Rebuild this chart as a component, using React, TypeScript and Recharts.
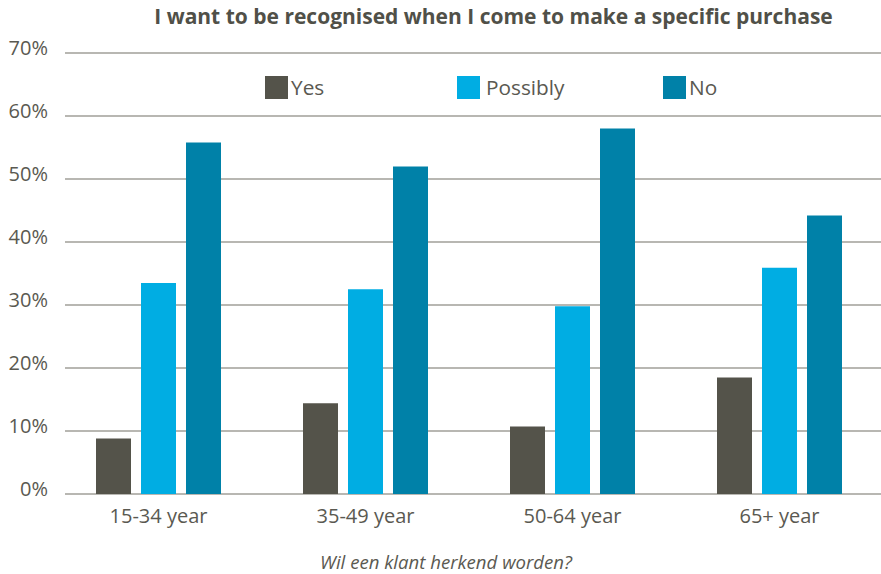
import React from "react";
import { BarChart, Bar, XAxis, YAxis, CartesianGrid } from "recharts";

// Age groups along the category axis
const ageGroups = ["15-34 year", "35-49 year", "50-64 year", "65+ year"];

// Share of respondents per answer, in percent
const yesValues = [8.8, 14.4, 10.7, 18.5];
const possiblyValues = [33.5, 32.5, 29.8, 35.9];
const noValues = [55.8, 52.0, 58.0, 44.2];

// Value-axis ticks, in percent
const percentTicks = [0, 10, 20, 30, 40, 50, 60, 70];

const seriesNames = ["Yes", "Possibly", "No"];
const seriesColors = ["#54534a", "#00ade3", "#0081a8"];

const chartTitle = "I want to be recognised when I come to make a specific purchase";
const categoryTitle = "Wil een klant herkend worden?";

const data = ageGroups.map((group, i) => ({
  group,
  Yes: yesValues[i],
  Possibly: possiblyValues[i],
  No: noValues[i],
}));

const FONT = "'Open Sans', 'Noto Sans', sans-serif";
const TEXT = "#5a5951";

// Legend entries spaced across the top of the plot
const legendOffsets = [265, 457, 663];

function SeriesLegend() {
  return (
    <div style={{ position: "absolute", left: 0, top: 76, width: 881, height: 24 }}>
      {seriesNames.map((name, i) => (
        <div
          key={name}
          style={{
            position: "absolute",
            left: legendOffsets[i],
            top: 0,
            display: "flex",
            alignItems: "center",
            fontFamily: FONT,
            fontSize: 20.8,
            color: TEXT,
            lineHeight: "23px",
            whiteSpace: "nowrap",
          }}
        >
          <span
            style={{
              display: "inline-block",
              width: 23,
              height: 23,
              background: seriesColors[i],
              marginRight: i === 1 ? 6 : 3,
            }}
          />
          {name}
        </div>
      ))}
    </div>
  );
}

export default function App() {
  return (
    <div
      style={{
        position: "absolute",
        left: 0,
        top: 0,
        width: 881,
        height: 574,
        background: "#ffffff",
        fontFamily: FONT,
      }}
    >
      <BarChart
        width={881}
        height={574}
        data={data}
        margin={{ top: 53, right: -2, bottom: 0, left: 0 }}
        barSize={35}
        barGap={10}
        barCategoryGap={41}
      >
        <CartesianGrid
          horizontal
          vertical={false}
          x={65}
          width={816}
          stroke="#a09f99"
          strokeWidth={1.5}
        />
        <XAxis
          dataKey="group"
          height={80}
          axisLine={false}
          tickLine={false}
          tickSize={0}
          tickMargin={15}
          tick={{ fill: TEXT, fontSize: 20, fontFamily: FONT }}
          interval={0}
        />
        <YAxis
          width={55}
          domain={[0, 70]}
          ticks={percentTicks}
          axisLine={false}
          tickLine={false}
          tickSize={0}
          tickMargin={7}
          tickFormatter={(v: number) => `${v}%`}
          tick={{ fill: TEXT, fontSize: 20, fontFamily: FONT, dy: -5 }}
        />
        {seriesNames.map((name, i) => (
          <Bar
            key={name}
            dataKey={name}
            fill={seriesColors[i]}
            isAnimationActive={false}
          />
        ))}
      </BarChart>
      <div
        style={{
          position: "absolute",
          left: 0,
          top: 2,
          width: 987,
          textAlign: "center",
          fontWeight: 700,
          fontSize: 21,
          color: "#505048",
          whiteSpace: "nowrap",
        }}
      >
        {chartTitle}
      </div>
      <SeriesLegend />
      <div
        style={{
          position: "absolute",
          left: 0,
          top: 549,
          width: 892,
          textAlign: "center",
          fontStyle: "italic",
          fontSize: 18.6,
          color: TEXT,
          whiteSpace: "nowrap",
        }}
      >
        {categoryTitle}
      </div>
    </div>
  );
}
